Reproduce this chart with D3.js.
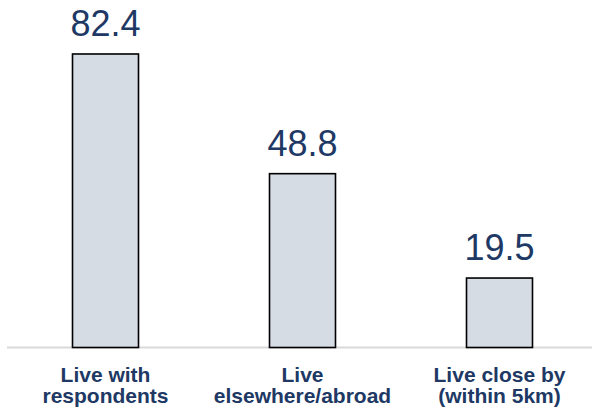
<!DOCTYPE html>
<html>
<head>
<meta charset="utf-8">
<script src="https://cdn.jsdelivr.net/npm/d3@7"></script>
<style>
  html, body { margin: 0; padding: 0; background: #fff; }
  svg { display: block; }
</style>
</head>
<body>
<svg id="chart" width="592" height="411"></svg>
<script>
// Where family members live (share, %)
const categories = [
  ["Live with", "respondents"],
  ["Live", "elsewhere/abroad"],
  ["Live close by", "(within 5km)"]
];
const values = [82.4, 48.8, 19.5];

const width = 592, height = 411;
const baseY = 347.5;
const textColor = "#203864";

const svg = d3.select("#chart");

const x = d3.scaleBand()
  .domain(d3.range(categories.length))
  .range([7, 598])
  .paddingInner(0.665)
  .paddingOuter(0.3325);

const y = d3.scaleLinear()
  .domain([0, 100])
  .range([baseY, baseY - 356.2]);

// baseline
svg.append("line")
  .attr("x1", 7).attr("x2", width)
  .attr("y1", baseY).attr("y2", baseY)
  .attr("stroke", "#d9d9d9")
  .attr("stroke-width", 2);

// bars
svg.append("g").selectAll("rect")
  .data(values)
  .join("rect")
  .attr("x", (d, i) => x(i))
  .attr("y", d => y(d))
  .attr("width", x.bandwidth())
  .attr("height", d => y(0) - y(d))
  .attr("fill", "#d6dce4")
  .attr("stroke", "#000")
  .attr("stroke-width", 1.6);

// value labels
svg.append("g").selectAll("text")
  .data(values)
  .join("text")
  .attr("x", (d, i) => x(i) + x.bandwidth() / 2)
  .attr("y", d => y(d) - 18)
  .attr("text-anchor", "middle")
  .attr("font-family", "Liberation Sans, Arial, sans-serif")
  .attr("font-size", 36)
  .attr("fill", textColor)
  .text(d => d.toFixed(1));

// category labels
const cat = svg.append("g").selectAll("text")
  .data(categories)
  .join("text")
  .attr("text-anchor", "middle")
  .attr("font-family", "Liberation Sans, Arial, sans-serif")
  .attr("font-weight", "bold")
  .attr("font-size", 21)
  .attr("fill", textColor);

cat.selectAll("tspan")
  .data((d, i) => d.map(line => ({ line, i })))
  .join("tspan")
  .attr("x", d => x(d.i) + x.bandwidth() / 2)
  .attr("y", (d, j) => 381.5 + j * 21.8)
  .text(d => d.line);
</script>
</body>
</html>
